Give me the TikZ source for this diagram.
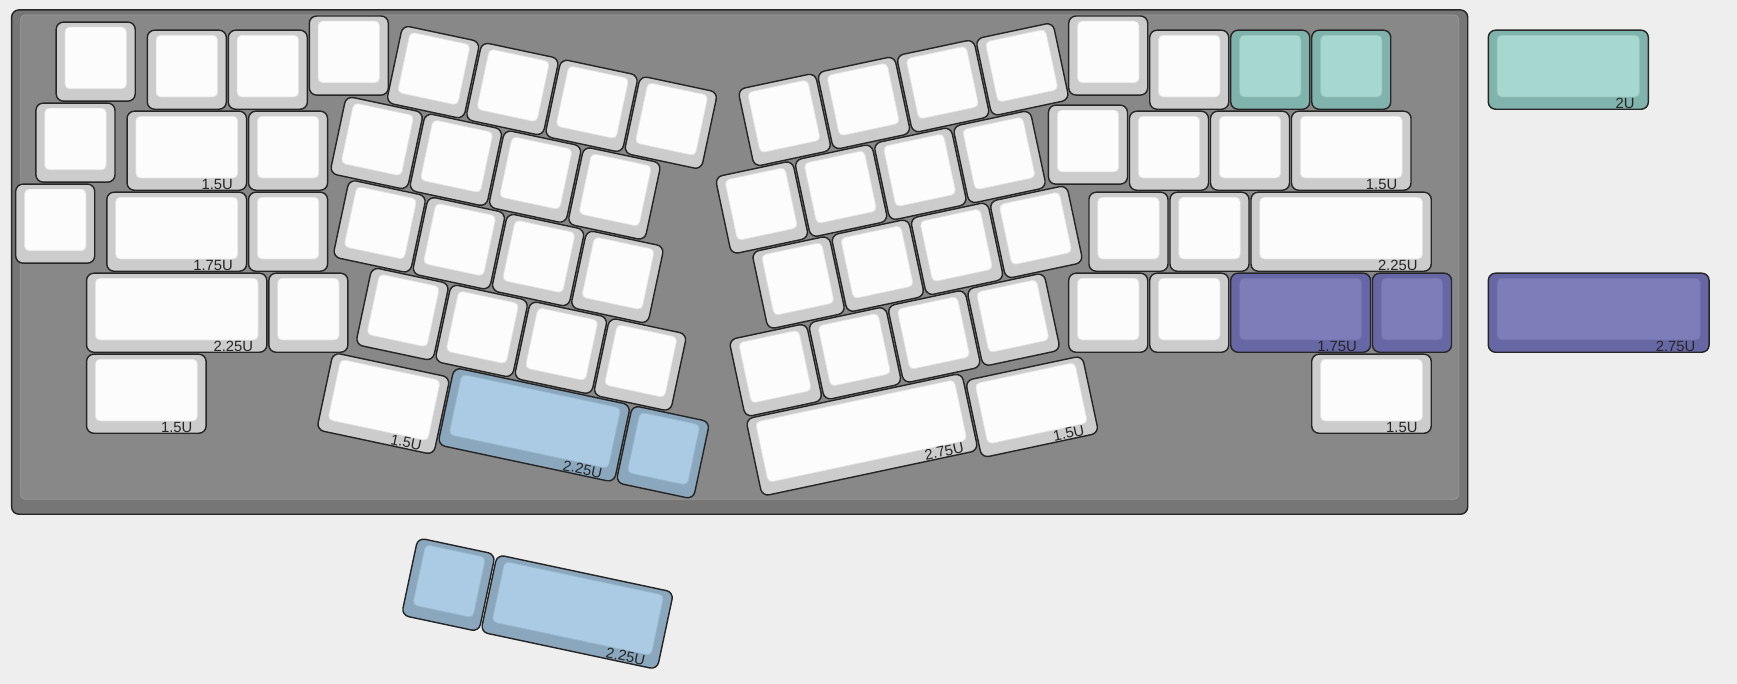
\documentclass[tikz,border=0pt]{standalone}
\usepackage{fontspec}
\newfontfamily\capfont{Liberation Sans}

\definecolor{bg}{HTML}{EEEEEE}
\definecolor{ctop}{HTML}{888888}
\definecolor{crim}{HTML}{767676}
\definecolor{wtop}{HTML}{FCFCFC}
\definecolor{wrim}{HTML}{CCCCCC}
\definecolor{btop}{HTML}{AACBE3}
\definecolor{brim}{HTML}{8AA7BE}
\definecolor{ttop}{HTML}{A6D8D0}
\definecolor{trim}{HTML}{80B3AB}
\definecolor{ptop}{HTML}{7D7DBA}
\definecolor{prim}{HTML}{6767A6}

\tikzset{
	capedge/.style={draw=black!85, line width=0.5pt, rounded corners=0.9mm},
	captop/.style={line width=0.25pt, rounded corners=0.55mm},
	caplabel/.style={font=\capfont\fontsize{5.2}{6}\selectfont, text=black!85, inner sep=0pt, anchor=base east, transform shape},
	pics/keycap/.style n args={3}{code={
		\filldraw[capedge, fill=#2rim] (0.012,0.012) rectangle (#1-0.012,0.988);
		\filldraw[captop, fill=#2top, draw=#2top!90!black] (0.121,0.074) rectangle (#1-0.121,0.836);
		\node[caplabel] (-lbl) at (#1-0.175,0.975) {#3};
	}}
}

\begin{document}
\begin{tikzpicture}[x=1cm,y=-1cm]
		\fill[bg] (0,0) rectangle (21.444,8.444);
		\useasboundingbox (0,0) rectangle (21.444,8.444);

		% straight blocks and the case
		\begin{scope}[shift={(0.1815,1.3605)}]
			\filldraw[capedge, fill=crim] (-0.038,-1.238) rectangle (17.938,4.988);
			\filldraw[captop, fill=ctop, draw=ctop!85!white] (0.073,-1.176) rectangle (17.827,4.803);

			% left block
			\pic (esc) at (0.5,-1.1) {keycap={1}{w}{}};
			\pic (fa) at (1.625,-1) {keycap={1}{w}{}};
			\pic (fb) at (2.625,-1) {keycap={1}{w}{}};
			\pic (fc) at (3.625,-1.175) {keycap={1}{w}{}};
			\pic (ha) at (0.25,-0.1) {keycap={1}{w}{}};
			\pic (tab) at (1.375,0) {keycap={1.5}{w}{1.5U}};
			\pic (q) at (2.875,0) {keycap={1}{w}{}};
			\pic (hb) at (0,0.9) {keycap={1}{w}{}};
			\pic (caps) at (1.125,1) {keycap={1.75}{w}{1.75U}};
			\pic (a) at (2.875,1) {keycap={1}{w}{}};
			\pic (lshift) at (0.875,2) {keycap={2.25}{w}{2.25U}};
			\pic (z) at (3.125,2) {keycap={1}{w}{}};
			\pic (lctrl) at (0.875,3) {keycap={1.5}{w}{1.5U}};

			% right block
			\pic (fd) at (13,-1.175) {keycap={1}{w}{}};
			\pic (fe) at (14,-1) {keycap={1}{w}{}};
			\pic (ff) at (15,-1) {keycap={1}{t}{}};
			\pic (fg) at (16,-1) {keycap={1}{t}{}};
			\pic (hc) at (12.75,-0.075) {keycap={1}{w}{}};
			\pic (lbr) at (13.75,0) {keycap={1}{w}{}};
			\pic (rbr) at (14.75,0) {keycap={1}{w}{}};
			\pic (bsl) at (15.75,0) {keycap={1.5}{w}{1.5U}};
			\pic (sc) at (13.25,1) {keycap={1}{w}{}};
			\pic (qu) at (14.25,1) {keycap={1}{w}{}};
			\pic (enter) at (15.25,1) {keycap={2.25}{w}{2.25U}};
			\pic (dot) at (13,2) {keycap={1}{w}{}};
			\pic (sl) at (14,2) {keycap={1}{w}{}};
			\pic (rshift) at (15,2) {keycap={1.75}{p}{1.75U}};
			\pic (fn) at (16.75,2) {keycap={1}{p}{}};
			\pic (rctrl) at (16,3) {keycap={1.5}{w}{1.5U}};

			% spare caps
			\pic (bsp) at (18.18,-1) {keycap={2}{t}{2U}};
			\pic (rshiftb) at (18.18,2) {keycap={2.75}{p}{2.75U}};
		\end{scope}

		% left half, turned
		\begin{scope}[shift={(4.962,0.2975)}, rotate=-12, transform shape]
			\foreach \r/\s in {0/0, 1/-0.5, 2/-0.25, 3/0.25}
				\foreach \c in {0,...,3}
					\pic (la\r\c) at (\s+\c,\r) {keycap={1}{w}{}};
			\pic (lalt) at (0,4.13) {keycap={1.5}{w}{1.5U}};
			\pic (lspace) at (1.5,4) {keycap={2.25}{b}{2.25U}};
			\pic (lfn) at (3.75,4) {keycap={1}{b}{}};
			\pic (lfnb) at (1.5,6.15) {keycap={1}{b}{}};
			\pic (lspaceb) at (2.5,6.15) {keycap={2.25}{b}{2.25U}};
		\end{scope}

		% right half, turned
		\begin{scope}[shift={(9.0944,1.0944)}, rotate=12, transform shape]
			\foreach \r/\s in {0/0, 1/-0.5, 2/-0.25, 3/-0.75}
				\foreach \c in {0,...,3}
					\pic (ra\r\c) at (\s+\c,\r) {keycap={1}{w}{}};
			\pic (rspace) at (-0.75,4) {keycap={2.75}{w}{2.75U}};
			\pic (ralt) at (2,4.1) {keycap={1.5}{w}{1.5U}};
		\end{scope}
	\end{tikzpicture}
\end{document}
